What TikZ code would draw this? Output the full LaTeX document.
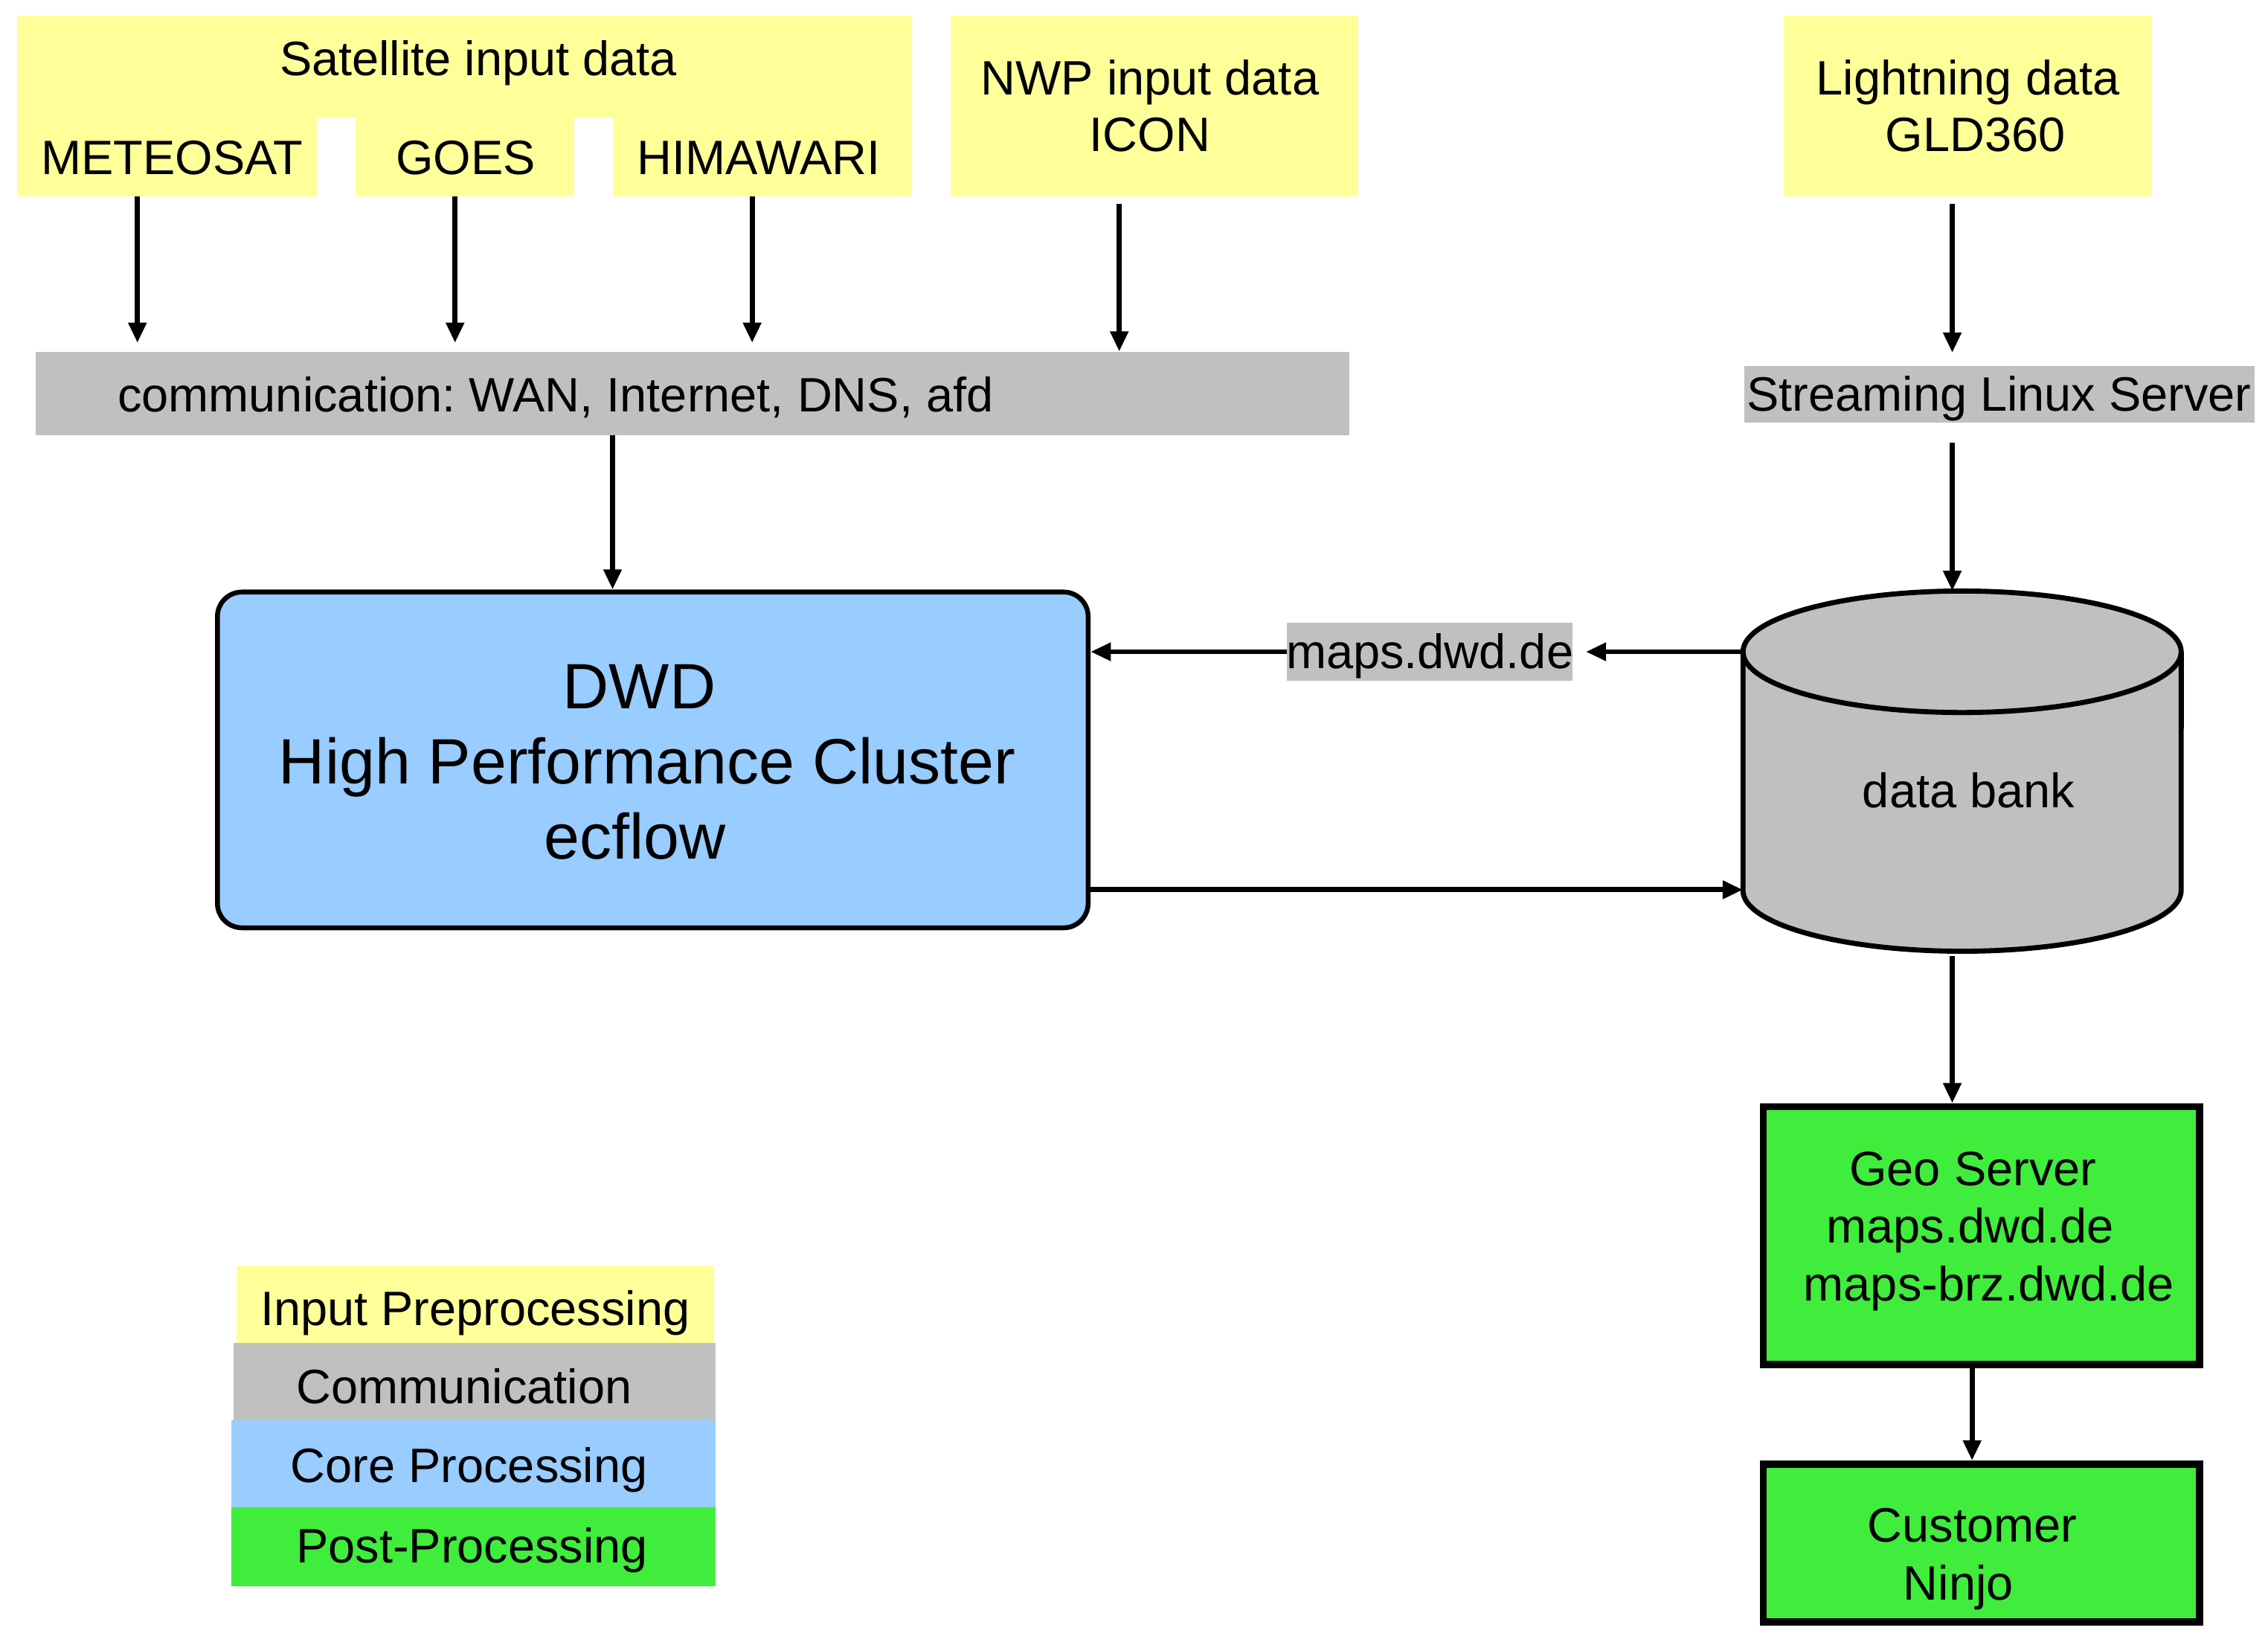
\documentclass[tikz,border=0pt]{standalone}
\usepackage{fontspec}
\setmainfont{Liberation Sans}
\usetikzlibrary{arrows.meta,fit}
\definecolor{inyellow}{RGB}{255,255,153}
\definecolor{comgray}{RGB}{192,192,192}
\definecolor{coreblue}{RGB}{153,204,255}
\definecolor{postgreen}{RGB}{64,237,60}
\tikzset{
  txt/.style={anchor=base, inner sep=0pt, font=\fontsize{19}{23}\selectfont},
  bigtxt/.style={anchor=base, inner sep=0pt, font=\fontsize{25.2}{30}\selectfont},
  area/.style={inner sep=0pt, outer sep=0pt, draw=none},
  conn/.style={line width=2pt, -{Triangle[width=0.24cm,length=0.28cm]}},
}
\frenchspacing
\begin{document}
\begin{tikzpicture}[x=0.02cm,y=-0.02cm]
\useasboundingbox (0,0) rectangle (1568,1137);

% ---------- input boxes ----------
\node[area,fill=inyellow,fit={(12,11)(630,81.5)}] (sat) {};
\node[area,fill=inyellow,fit={(12,80.5)(219,136)}] (meteo) {};
\node[area,fill=inyellow,fit={(246,80.5)(397,136)}] (goes) {};
\node[area,fill=inyellow,fit={(424,80.5)(630,136)}] (hima) {};
\node[txt] (sattxt) at (330.7,52) {Satellite input data};
\node[txt] (meteotxt) at (119,120.5) {METEOSAT};
\node[txt] (goestxt) at (322,120.5) {GOES};
\node[txt] (himatxt) at (524.6,120.5) {HIMAWARI};

\node[area,fill=inyellow,fit={(657,11)(939,136)}] (nwp) {};
\node[txt] (nwptxtA) at (795,65.5) {NWP input data};
\node[txt] (nwptxtB) at (795,104.7) {ICON};

\node[area,fill=inyellow,fit={(1233,11)(1488,136)}] (light) {};
\node[txt] (lighttxtA) at (1360.5,65.5) {Lightning data};
\node[txt] (lighttxtB) at (1365.7,104.7) {GLD360};

% ---------- communication ----------
\node[area,fill=comgray,fit={(24.6,243)(933,301)}] (comm) {};
\node[txt,anchor=base west] (commtxt) at (81,284.7) {communication: WAN, Internet, DNS, afd};

\node[area,fill=comgray,fit={(1205.7,252.8)(1558.5,292)}] (sls) {};
\node[txt] (slstxt) at (1382.1,284) {Streaming Linux Server};

% ---------- core ----------
\node[fit={(150.3,409.2)(752.3,641.3)}, inner sep=0pt, draw, line width=1.9pt,
      rounded corners=0.34cm, fill=coreblue] (dwd) {};
\node[bigtxt] (dwdtxtA) at (442,489.6) {DWD};
\node[bigtxt] (dwdtxtB) at (447.5,541.8) {High Performance Cluster};
\node[bigtxt] (dwdtxtC) at (439,593.5) {ecflow};

% ---------- maps label ----------
\node[area,fill=comgray,fit={(889.7,430.5)(1087.4,470.5)}] (maps) {};
\node[txt] (mapstxt) at (988.5,462) {maps.dwd.de};

% ---------- data bank cylinder ----------
\fill[comgray] (1205,450.5) -- (1205,615.5)
  arc[start angle=180,end angle=360,x radius=3.03cm,y radius=0.84cm]
  -- (1508,450.5)
  arc[start angle=0,end angle=180,x radius=3.03cm,y radius=0.84cm] -- cycle;
\draw[line width=2pt] (1205,450.5) -- (1205,615.5)
  arc[start angle=180,end angle=360,x radius=3.03cm,y radius=0.84cm]
  -- (1508,450.5);
\draw[line width=2pt] (1356.5,450.5) ellipse[x radius=3.03cm,y radius=0.84cm];
\node[txt] (db) at (1361,558.4) {data bank};
\coordinate (dbtop) at (1349.7,408.5);
\coordinate (dbleftA) at (1205,450.5);
\coordinate (dbleftB) at (1205,615);
\coordinate (dbbot) at (1349.7,661);

% ---------- post-processing ----------
\node[fit={(1219,765)(1520.8,943)}, inner sep=0pt, draw, line width=2.8pt, fill=postgreen] (geo) {};
\node[txt] (geotxtA) at (1364,819.5) {Geo Server};
\node[txt] (geotxtB) at (1362,859) {maps.dwd.de};
\node[txt] (geotxtC) at (1375,899) {maps-brz.dwd.de};

\node[fit={(1219,1012)(1520.8,1121.2)}, inner sep=0pt, draw, line width=2.8pt, fill=postgreen] (cust) {};
\node[txt] (custtxtA) at (1363.5,1066) {Customer};
\node[txt] (custtxtB) at (1354,1106) {Ninjo};

% ---------- legend ----------
\node[area,fill=inyellow,fit={(163.3,874.7)(493.5,928.8)}] (legA) {};
\node[area,fill=comgray,fit={(161.7,928.3)(494.6,982)}] (legB) {};
\node[area,fill=coreblue,fit={(160,981.6)(494.6,1042.2)}] (legC) {};
\node[area,fill=postgreen,fit={(160,1041.8)(494.6,1096.6)}] (legD) {};
\node[txt] (legAtxt) at (328.5,916) {Input Preprocessing};
\node[txt] (legBtxt) at (320.9,970.3) {Communication};
\node[txt] (legCtxt) at (324.4,1024.9) {Core Processing};
\node[txt] (legDtxt) at (326.4,1080.1) {Post-Processing};

% ---------- connectors ----------
\coordinate (xmet) at (95,0);
\coordinate (xgoes) at (314.6,0);
\coordinate (xhima) at (520,0);
\coordinate (xnwp) at (773.8,0);
\coordinate (xlight) at (1349.7,0);
\coordinate (xcomm) at (423.5,0);
\coordinate (xcust) at (1363.4,0);

\draw[conn,shorten >=0.12cm] (meteo.south -| xmet) -- (comm.north -| xmet);
\draw[conn,shorten >=0.12cm] (goes.south -| xgoes) -- (comm.north -| xgoes);
\draw[conn,shorten >=0.12cm] (hima.south -| xhima) -- (comm.north -| xhima);
\draw[conn,shorten <=0.1cm] (nwp.south -| xnwp) -- (comm.north -| xnwp);
\draw[conn,shorten <=0.1cm,shorten >=0.18cm] (light.south -| xlight) -- (sls.north -| xlight);
\draw[conn] (comm.south -| xcomm) -- (dwd.north -| xcomm);
\draw[conn,shorten <=0.28cm] (sls.south -| xlight) -- (dbtop);
\draw[conn,shorten >=0.18cm] (dbleftA) -- (maps.east);
\draw[conn] (maps.west) -- (maps.west -| dwd.east);
\draw[conn] (dwd.east |- dbleftB) -- (dbleftB);
\draw[conn] (dbbot) -- (geo.north -| dbbot);
\draw[conn] (geo.south -| xcust) -- (cust.north -| xcust);
\end{tikzpicture}
\end{document}
